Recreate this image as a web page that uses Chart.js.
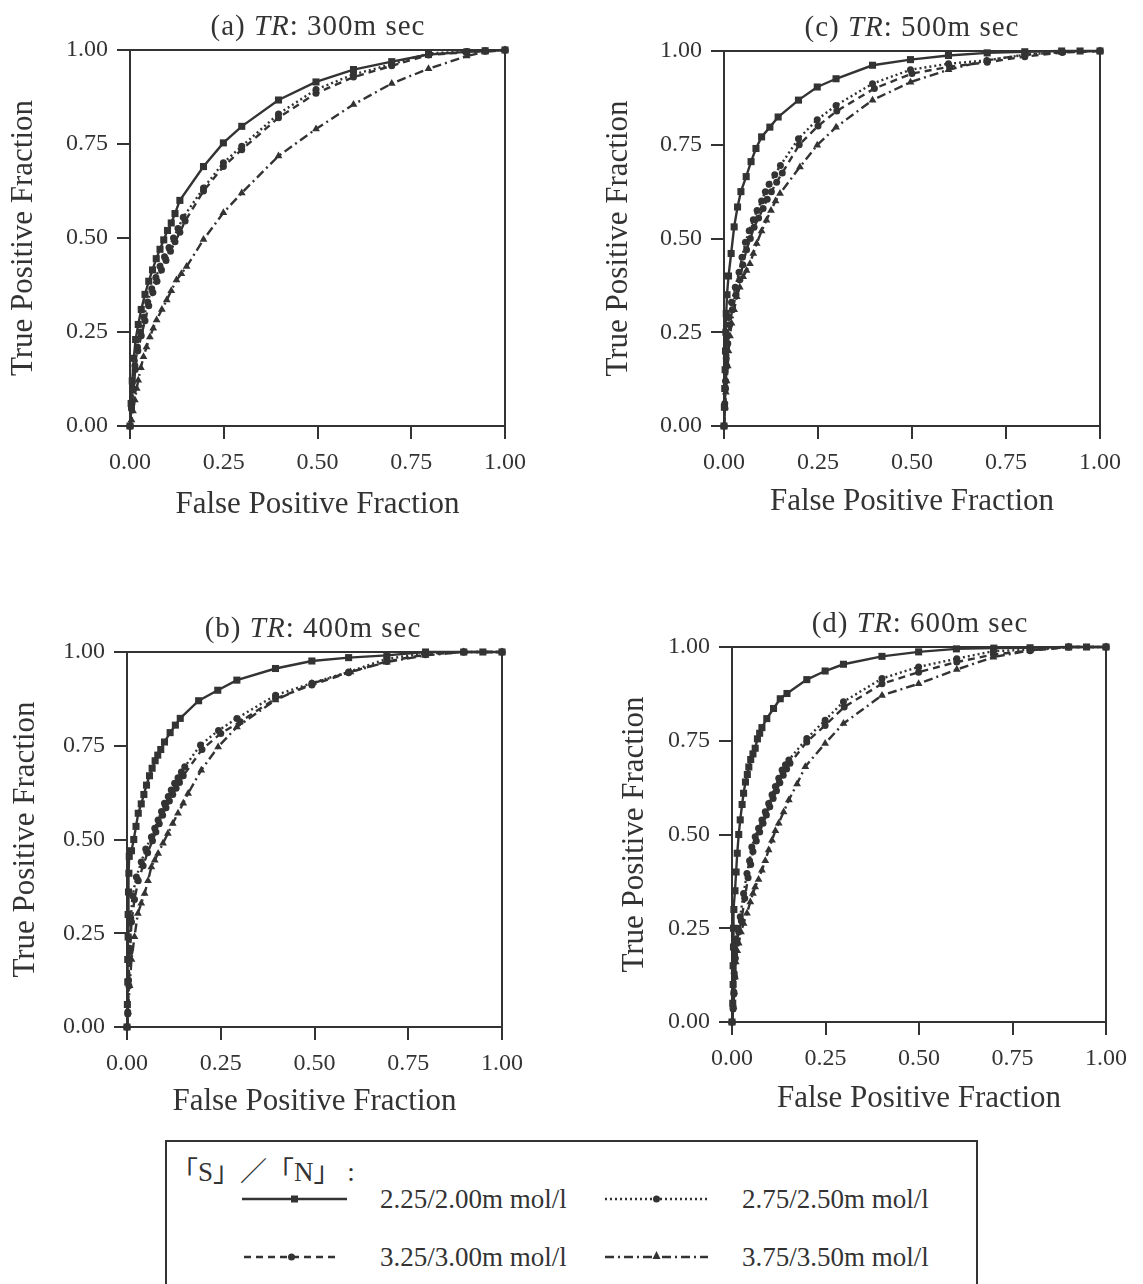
<!DOCTYPE html>
<html>
<head>
<meta charset="utf-8">
<script src="https://cdn.jsdelivr.net/npm/chart.js@4.4.1/dist/chart.umd.min.js"></script>
<style>
  body { margin: 0; background: #fff; width: 1143px; height: 1284px; position: relative; overflow: hidden;
         font-family: "Liberation Serif", "DejaVu Serif", serif; color: #333; }
  .panel { position: absolute; width: 540px; height: 530px; }
  .ttl { position: absolute; font-size: 29px; letter-spacing: 1px; white-space: nowrap; transform: translate(-50%, -50%); }
  #legend { position: absolute; left: 165px; top: 1140px; width: 813px; height: 150px;
            border: 2px solid #333; box-sizing: border-box; }
  .lg { position: absolute; font-size: 27px; white-space: nowrap; transform: translateY(-50%); }
  .hdr { font-family: "Liberation Serif", "Noto Sans CJK JP", serif; }
  svg.sample { position: absolute; overflow: visible; }
</style>
</head>
<body>
<div id="root"></div>
<div id="legend"></div>
<script>
// ticks and labels
const tickValues = [0, 0.25, 0.5, 0.75, 1];
const seriesLabels = ["2.25/2.00m mol/l", "2.75/2.50m mol/l", "3.25/3.00m mol/l", "3.75/3.50m mol/l"];
const panelLetters = ["a", "c", "b", "d"];
const trValues = ["300", "500", "400", "600"];

// (a) TR 300 — [FPF, TPF]
const a225 = [[0,0],[0.003,0.06],[0.006,0.12],[0.01,0.18],[0.015,0.23],[0.022,0.27],[0.03,0.31],[0.04,0.35],[0.05,0.385],[0.06,0.415],[0.07,0.445],[0.08,0.47],[0.09,0.495],[0.1,0.52],[0.11,0.54],[0.12,0.565],[0.133,0.6],[0.196,0.69],[0.249,0.753],[0.298,0.797],[0.396,0.867],[0.496,0.915],[0.596,0.948],[0.698,0.969],[0.796,0.988],[0.898,0.995],[0.947,0.998],[1,1]];
const a275 = [[0,0],[0.004,0.05],[0.008,0.1],[0.013,0.16],[0.02,0.21],[0.028,0.25],[0.037,0.29],[0.047,0.33],[0.058,0.365],[0.069,0.395],[0.08,0.425],[0.092,0.45],[0.104,0.475],[0.116,0.5],[0.128,0.525],[0.142,0.555],[0.196,0.633],[0.249,0.7],[0.298,0.744],[0.396,0.83],[0.496,0.895],[0.596,0.935],[0.698,0.962],[0.796,0.991],[0.898,0.996],[0.947,0.998],[1,1]];
const a325 = [[0,0],[0.004,0.045],[0.009,0.095],[0.014,0.15],[0.021,0.2],[0.03,0.24],[0.04,0.28],[0.05,0.32],[0.061,0.355],[0.072,0.385],[0.084,0.415],[0.096,0.44],[0.108,0.465],[0.12,0.49],[0.133,0.515],[0.147,0.545],[0.196,0.625],[0.249,0.69],[0.298,0.735],[0.396,0.82],[0.496,0.885],[0.596,0.928],[0.698,0.958],[0.796,0.987],[0.898,0.994],[0.947,0.997],[1,1]];
const a375 = [[0,0],[0.004,0.016],[0.008,0.04],[0.013,0.069],[0.018,0.1],[0.022,0.122],[0.029,0.155],[0.036,0.184],[0.044,0.21],[0.053,0.237],[0.062,0.26],[0.071,0.282],[0.085,0.31],[0.098,0.335],[0.11,0.36],[0.124,0.388],[0.137,0.405],[0.151,0.424],[0.196,0.496],[0.249,0.567],[0.298,0.62],[0.396,0.718],[0.496,0.79],[0.596,0.855],[0.698,0.911],[0.796,0.95],[0.898,0.984],[0.947,0.995],[1,1]];

// (c) TR 500
const c225 = [[0,0],[0.001,0.05],[0.002,0.1],[0.003,0.15],[0.004,0.2],[0.005,0.25],[0.006,0.3],[0.008,0.35],[0.012,0.4],[0.019,0.46],[0.027,0.531],[0.036,0.584],[0.045,0.625],[0.059,0.665],[0.072,0.705],[0.085,0.74],[0.1,0.771],[0.122,0.797],[0.144,0.824],[0.198,0.869],[0.248,0.904],[0.298,0.926],[0.395,0.962],[0.496,0.977],[0.597,0.988],[0.7,0.995],[0.8,0.998],[0.898,1],[0.947,1],[1,1]];
const c275 = [[0,0],[0.002,0.06],[0.004,0.12],[0.006,0.18],[0.009,0.24],[0.013,0.29],[0.02,0.33],[0.03,0.37],[0.04,0.41],[0.048,0.45],[0.057,0.49],[0.067,0.521],[0.078,0.55],[0.088,0.575],[0.1,0.6],[0.11,0.625],[0.12,0.645],[0.135,0.67],[0.15,0.695],[0.198,0.766],[0.248,0.817],[0.298,0.855],[0.395,0.913],[0.496,0.95],[0.597,0.966],[0.699,0.975],[0.8,0.99],[0.9,0.998],[1,1]];
const c325 = [[0,0],[0.002,0.05],[0.004,0.1],[0.007,0.16],[0.01,0.22],[0.015,0.27],[0.022,0.31],[0.032,0.35],[0.042,0.39],[0.05,0.43],[0.06,0.47],[0.07,0.5],[0.08,0.53],[0.092,0.555],[0.104,0.58],[0.115,0.605],[0.126,0.625],[0.14,0.65],[0.155,0.675],[0.2,0.75],[0.25,0.8],[0.3,0.84],[0.4,0.9],[0.5,0.94],[0.6,0.958],[0.7,0.97],[0.8,0.985],[0.9,0.996],[1,1]];
const c375 = [[0,0],[0.003,0.05],[0.005,0.09],[0.007,0.12],[0.01,0.16],[0.012,0.2],[0.016,0.24],[0.02,0.274],[0.027,0.31],[0.034,0.345],[0.042,0.37],[0.051,0.398],[0.06,0.415],[0.069,0.433],[0.078,0.46],[0.087,0.487],[0.1,0.52],[0.113,0.549],[0.125,0.575],[0.137,0.6],[0.149,0.62],[0.202,0.691],[0.248,0.749],[0.298,0.797],[0.395,0.869],[0.496,0.917],[0.597,0.95],[0.699,0.975],[0.8,0.99],[0.9,0.997],[1,1]];

// (b) TR 400
const b225 = [[0,0],[0.001,0.06],[0.002,0.12],[0.002,0.18],[0.003,0.24],[0.003,0.3],[0.004,0.36],[0.005,0.41],[0.006,0.455],[0.012,0.47],[0.018,0.5],[0.024,0.535],[0.03,0.57],[0.038,0.595],[0.045,0.62],[0.052,0.645],[0.06,0.67],[0.067,0.69],[0.075,0.71],[0.082,0.725],[0.09,0.74],[0.1,0.76],[0.115,0.785],[0.129,0.805],[0.142,0.823],[0.191,0.87],[0.242,0.898],[0.293,0.925],[0.396,0.956],[0.493,0.976],[0.591,0.985],[0.693,0.991],[0.796,1],[0.898,1],[0.949,1],[1,1]];
const b275 = [[0,0],[0.002,0.04],[0.004,0.125],[0.007,0.21],[0.01,0.29],[0.015,0.35],[0.025,0.4],[0.038,0.44],[0.05,0.475],[0.065,0.507],[0.074,0.53],[0.083,0.552],[0.092,0.575],[0.1,0.597],[0.11,0.615],[0.118,0.632],[0.127,0.65],[0.136,0.665],[0.145,0.68],[0.154,0.694],[0.196,0.752],[0.244,0.791],[0.293,0.823],[0.396,0.885],[0.493,0.917],[0.591,0.947],[0.693,0.982],[0.796,0.996],[0.898,1],[1,1]];
const b325 = [[0,0],[0.002,0.035],[0.005,0.11],[0.008,0.2],[0.012,0.28],[0.02,0.34],[0.03,0.39],[0.043,0.43],[0.055,0.465],[0.068,0.497],[0.077,0.52],[0.086,0.542],[0.095,0.565],[0.104,0.585],[0.113,0.603],[0.122,0.62],[0.131,0.637],[0.14,0.652],[0.15,0.67],[0.2,0.74],[0.25,0.783],[0.302,0.814],[0.396,0.876],[0.493,0.912],[0.591,0.945],[0.693,0.975],[0.796,0.993],[0.898,1],[1,1]];
const b375 = [[0,0],[0.003,0.04],[0.007,0.11],[0.012,0.18],[0.02,0.241],[0.029,0.303],[0.038,0.33],[0.047,0.356],[0.056,0.39],[0.065,0.427],[0.074,0.445],[0.083,0.463],[0.096,0.49],[0.109,0.516],[0.122,0.543],[0.136,0.57],[0.15,0.597],[0.163,0.623],[0.198,0.685],[0.243,0.747],[0.293,0.8],[0.396,0.872],[0.493,0.916],[0.596,0.947],[0.693,0.973],[0.796,0.991],[0.898,1],[1,1]];

// (d) TR 600
const d225 = [[0,0],[0.002,0.05],[0.003,0.1],[0.003,0.15],[0.004,0.2],[0.004,0.25],[0.005,0.3],[0.008,0.35],[0.011,0.4],[0.014,0.45],[0.018,0.5],[0.022,0.539],[0.027,0.58],[0.031,0.61],[0.036,0.64],[0.041,0.66],[0.045,0.68],[0.05,0.7],[0.056,0.715],[0.062,0.73],[0.068,0.755],[0.074,0.77],[0.08,0.785],[0.093,0.809],[0.111,0.836],[0.129,0.862],[0.147,0.876],[0.2,0.913],[0.249,0.936],[0.298,0.954],[0.401,0.975],[0.499,0.987],[0.6,0.995],[0.7,0.997],[0.797,0.998],[0.9,1],[0.948,1],[1,1]];
const d275 = [[0,0],[0.003,0.04],[0.005,0.08],[0.006,0.13],[0.007,0.18],[0.01,0.22],[0.016,0.25],[0.022,0.281],[0.031,0.343],[0.04,0.396],[0.047,0.43],[0.053,0.467],[0.062,0.494],[0.071,0.517],[0.08,0.539],[0.089,0.561],[0.098,0.583],[0.107,0.606],[0.116,0.628],[0.125,0.65],[0.134,0.672],[0.143,0.686],[0.152,0.699],[0.2,0.756],[0.249,0.805],[0.298,0.854],[0.401,0.916],[0.499,0.947],[0.601,0.969],[0.699,0.989],[0.797,0.993],[0.9,1],[1,1]];
const d325 = [[0,0],[0.003,0.035],[0.005,0.075],[0.007,0.12],[0.009,0.17],[0.012,0.21],[0.018,0.24],[0.025,0.27],[0.034,0.33],[0.043,0.385],[0.05,0.42],[0.056,0.455],[0.065,0.483],[0.074,0.507],[0.083,0.53],[0.092,0.552],[0.101,0.574],[0.11,0.596],[0.119,0.617],[0.128,0.638],[0.137,0.658],[0.146,0.675],[0.155,0.69],[0.2,0.747],[0.249,0.791],[0.3,0.84],[0.401,0.902],[0.499,0.933],[0.601,0.96],[0.699,0.98],[0.797,0.99],[0.9,1],[1,1]];
const d375 = [[0,0],[0.004,0.04],[0.006,0.08],[0.008,0.12],[0.01,0.16],[0.014,0.19],[0.018,0.21],[0.024,0.24],[0.031,0.263],[0.04,0.29],[0.049,0.32],[0.056,0.343],[0.062,0.36],[0.071,0.38],[0.08,0.405],[0.089,0.43],[0.098,0.459],[0.107,0.485],[0.116,0.51],[0.125,0.53],[0.138,0.56],[0.152,0.592],[0.174,0.635],[0.196,0.681],[0.249,0.743],[0.298,0.796],[0.401,0.871],[0.499,0.902],[0.601,0.94],[0.699,0.973],[0.797,0.991],[0.9,1],[1,1]];

const panelData = [[a225, a275, a325, a375], [c225, c275, c325, c375], [b225, b275, b325, b375], [d225, d275, d325, d375]];

// layout of each panel on the page (pixels)
const boxes = [
  { left: 0,   top: 0,   padTop: 50, padRight: 35, axisW: 130, axisH: 104, yPad: 5,  xPad: 7,  tx: 318, ty: 25 },
  { left: 594, top: 0,   padTop: 51, padRight: 34, axisW: 130, axisH: 104, yPad: 6,  xPad: 10, tx: 912, ty: 26 },
  { left: 0,   top: 600, padTop: 52, padRight: 38, axisW: 127, axisH: 103, yPad: 7,  xPad: 10, tx: 313, ty: 627 },
  { left: 600, top: 600, padTop: 47, padRight: 34, axisW: 132, axisH: 108, yPad: 16, xPad: 13, tx: 920, ty: 622 },
];

const INK = "#333";
const lineStyles = [
  { dash: [],           pt: "rect",     r: 5 },
  { dash: [2, 3],       pt: "circle",   r: 3.5 },
  { dash: [7, 5],       pt: "circle",   r: 3.5 },
  { dash: [9, 4, 2, 4], pt: "triangle", r: 4.5 },
];

const frame = {
  id: "frame",
  beforeDatasetsDraw(chart) {
    const { ctx, chartArea: a } = chart;
    ctx.save();
    ctx.strokeStyle = INK;
    ctx.lineWidth = 2;
    ctx.strokeRect(a.left, a.top, a.right - a.left, a.bottom - a.top);
    ctx.restore();
  }
};

const tickFont = { family: "Liberation Serif", size: 24 };
const titleFont = { family: "Liberation Serif", size: 31 };

function axis(title, pad, fitKey, fitVal) {
  return {
    type: "linear", min: 0, max: 1,
    afterBuildTicks: (s) => { s.ticks = tickValues.map(v => ({ value: v })); },
    afterFit: (s) => { s[fitKey] = fitVal; },
    ticks: { color: INK, font: tickFont, padding: 9, callback: (v) => Number(v).toFixed(2), maxRotation: 0 },
    grid: { drawOnChartArea: false, drawTicks: true, tickLength: 13, color: INK, lineWidth: 2 },
    border: { display: true, color: INK, width: 2 },
    title: { display: true, text: title, color: INK, font: titleFont, padding: { top: pad, bottom: pad } },
  };
}

const root = document.getElementById("root");
boxes.forEach((b, i) => {
  const div = document.createElement("div");
  div.className = "panel";
  div.style.left = b.left + "px";
  div.style.top = b.top + "px";
  const cv = document.createElement("canvas");
  cv.width = 540;
  cv.height = 530;
  cv.style.width = "540px";
  cv.style.height = "530px";
  div.appendChild(cv);
  root.appendChild(div);

  const t = document.createElement("div");
  t.className = "ttl";
  t.style.left = b.tx + "px";
  t.style.top = b.ty + "px";
  t.innerHTML = `(${panelLetters[i]}) <i>TR</i>: ${trValues[i]}m sec`;
  document.body.appendChild(t);

  new Chart(cv, {
    type: "scatter",
    data: {
      datasets: panelData[i].map((pts, k) => ({
        label: seriesLabels[k],
        data: pts.map(([x, y]) => ({ x, y })),
        showLine: true,
        tension: 0,
        borderColor: INK,
        backgroundColor: INK,
        borderWidth: 2.4,
        borderDash: lineStyles[k].dash,
        pointStyle: lineStyles[k].pt,
        pointRadius: lineStyles[k].r,
        pointBorderWidth: 0,
        clip: false,
      }))
    },
    options: {
      responsive: false,
      animation: false,
      devicePixelRatio: 1,
      layout: { padding: { top: b.padTop, right: b.padRight, left: 0, bottom: 0 } },
      plugins: { legend: { display: false }, tooltip: { enabled: false } },
      scales: {
        x: axis("False Positive Fraction", b.xPad, "height", b.axisH),
        y: axis("True Positive Fraction", b.yPad, "width", b.axisW),
      }
    },
    plugins: [frame]
  });
});

// legend, built from the same series labels and line styles
const legend = document.getElementById("legend");
const hdr = document.createElement("div");
hdr.className = "lg hdr";
hdr.style.left = "4px";
hdr.style.top = "27px";
hdr.textContent = "「S」／「N」 :";
legend.appendChild(hdr);

const slots = [
  { sx: 75,  sw: 105, y: 57,  tx: 213 },
  { sx: 438, sw: 103, y: 57,  tx: 575 },
  { sx: 77,  sw: 95,  y: 115, tx: 213 },
  { sx: 438, sw: 103, y: 115, tx: 575 },
];
slots.forEach((s, k) => {
  const st = lineStyles[k];
  const svgNS = "http://www.w3.org/2000/svg";
  const svg = document.createElementNS(svgNS, "svg");
  svg.setAttribute("class", "sample");
  svg.setAttribute("width", s.sw);
  svg.setAttribute("height", 12);
  svg.style.left = s.sx + "px";
  svg.style.top = (s.y - 6) + "px";
  const ln = document.createElementNS(svgNS, "line");
  ln.setAttribute("x1", 0); ln.setAttribute("x2", s.sw);
  ln.setAttribute("y1", 6); ln.setAttribute("y2", 6);
  ln.setAttribute("stroke", INK); ln.setAttribute("stroke-width", 2.4);
  if (st.dash.length) ln.setAttribute("stroke-dasharray", st.dash.join(" "));
  svg.appendChild(ln);
  const cx = s.sw / 2;
  let m;
  if (st.pt === "rect") {
    m = document.createElementNS(svgNS, "rect");
    m.setAttribute("x", cx - 3.5); m.setAttribute("y", 2.5); m.setAttribute("width", 7); m.setAttribute("height", 7);
  } else if (st.pt === "triangle") {
    m = document.createElementNS(svgNS, "polygon");
    m.setAttribute("points", `${cx},0 ${cx - 4},8 ${cx + 4},8`);
  } else {
    m = document.createElementNS(svgNS, "circle");
    m.setAttribute("cx", cx); m.setAttribute("cy", 6); m.setAttribute("r", 3.5);
  }
  m.setAttribute("fill", INK);
  svg.appendChild(m);
  legend.appendChild(svg);

  const lab = document.createElement("div");
  lab.className = "lg";
  lab.style.left = s.tx + "px";
  lab.style.top = s.y + "px";
  lab.textContent = seriesLabels[k];
  legend.appendChild(lab);
});
</script>
</body>
</html>
